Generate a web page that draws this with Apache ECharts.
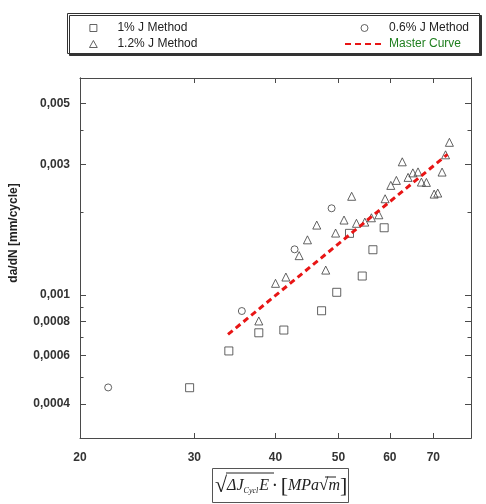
<!DOCTYPE html>
<html>
<head>
<meta charset="utf-8">
<script src="https://cdn.jsdelivr.net/npm/echarts@6/dist/echarts.min.js"></script>
<style>
  html, body { margin: 0; padding: 0; background: #fff; }
  #chart { width: 486px; height: 504px; }
</style>
</head>
<body>
<div id="chart"></div>
<script>
// tick positions
const xTicks = [20, 30, 40, 50, 60, 70];
const xInnerTicks = [30, 40, 50, 60, 70];
const yMajorTicks = [0.0004, 0.0006, 0.0008, 0.001, 0.003, 0.005];
const yMinorTicks = [0.0005, 0.0007, 0.0009, 0.002, 0.004];

// [sqrt(dJ*E), da/dN]
const method1pct = [
  [29.5, 0.000458], [33.9, 0.000624], [37.7, 0.000727], [41.2, 0.000744],
  [47.1, 0.000875], [49.7, 0.001022], [54.4, 0.001172], [56.5, 0.001462],
  [52.0, 0.001678], [58.8, 0.001759]
];
const method12pct = [
  [37.7, 0.000803], [40.0, 0.001102], [41.5, 0.001162], [43.5, 0.001391],
  [44.8, 0.001589], [46.3, 0.001799], [47.8, 0.001232], [49.5, 0.001682],
  [51.0, 0.001877], [52.4, 0.002292], [53.3, 0.001826], [54.9, 0.001845],
  [56.2, 0.001913], [57.7, 0.001962], [59.0, 0.002245], [60.2, 0.002512],
  [61.4, 0.002620], [62.7, 0.003063], [64.0, 0.002687], [65.1, 0.002791],
  [66.3, 0.002814], [67.1, 0.002583], [68.3, 0.002576], [70.2, 0.002335],
  [71.1, 0.002355], [72.2, 0.002810], [73.1, 0.003249], [74.1, 0.003609]
];
const method06pct = [[22.1, 0.000459], [35.5, 0.000873], [42.8, 0.001467], [48.8, 0.002072]];
const masterCurve = [[33.8, 0.000717], [73.6, 0.003261]];

const chart = echarts.init(document.getElementById("chart"), null, { renderer: "canvas" });

const frame = { color: "#4a4a4a", width: 1 };
const font = "Liberation Sans, Arial, sans-serif";
const pointStyle = { color: "rgba(255,255,255,0)", borderColor: "#3c3c3c", borderWidth: 1 };
const squareIcon = "path://M0,0L10,0L10,10L0,10Z";
const triangleIcon = "path://M5,0L10,9L0,9Z";
const legendIconStyle = { borderWidth: 1, borderColor: "#3c3c3c" };

const fmtY = (v) => String(+Number(v).toPrecision(4)).replace(".", ",");

function yAxisFor(position, ticks, len, labels) {
  return {
    type: "log",
    logBase: 10,
    min: 0.0003,
    max: 0.0062,
    position: position,
    axisLine: { show: true, lineStyle: frame },
    axisTick: { show: true, inside: true, length: len, lineStyle: frame, customValues: ticks },
    axisLabel: labels
      ? { show: true, customValues: ticks, formatter: fmtY, margin: 10, fontSize: 12, fontWeight: "bold", color: "#333", fontFamily: font }
      : { show: false },
    splitLine: { show: false }
  };
}

function xAxisFor(position, labels) {
  return {
    type: "log",
    logBase: 10,
    min: 20,
    max: 80,
    position: position,
    axisLine: { show: true, onZero: false, lineStyle: frame },
    axisTick: { show: true, inside: true, length: 5, lineStyle: frame, customValues: xInnerTicks },
    axisLabel: labels
      ? { show: true, customValues: xTicks, margin: 14, fontSize: 12, fontWeight: "bold", color: "#333", fontFamily: font }
      : { show: false },
    splitLine: { show: false }
  };
}

const legendText = { fontSize: 12, fontFamily: font, color: "#222" };

const option = {
  animation: false,
  backgroundColor: "#fff",
  grid: { left: 80, top: 78, right: 15, bottom: 66 },
  xAxis: [xAxisFor("bottom", true), xAxisFor("top", false)],
  yAxis: [
    yAxisFor("left", yMajorTicks, 6, true),
    yAxisFor("left", yMinorTicks, 3.5, false),
    yAxisFor("right", yMajorTicks, 6, false),
    yAxisFor("right", yMinorTicks, 3.5, false)
  ],
  legend: [
    {
      orient: "vertical", left: 84, top: 17, itemWidth: 38, itemHeight: 7, itemGap: 4,
      data: [
        { name: "1% J Method", icon: squareIcon, itemStyle: legendIconStyle },
        { name: "1.2% J Method", icon: triangleIcon, itemStyle: legendIconStyle }
      ],
      textStyle: legendText
    },
    {
      orient: "vertical", left: 339, top: 17, itemWidth: 39, itemHeight: 7, itemGap: 4,
      data: [
        { name: "0.6% J Method", itemStyle: legendIconStyle },
        {
          name: "Master Curve",
          textStyle: { color: "#1f7f1f" },
          itemStyle: { color: "rgba(0,0,0,0)", borderWidth: 0, opacity: 0 }
        }
      ],
      textStyle: legendText
    }
  ],
  graphic: [
    {
      type: "rect", left: 67, top: 13, z: -1,
      shape: { width: 412, height: 40 },
      style: { fill: "#fff", stroke: "#333", lineWidth: 1, shadowColor: "#333", shadowOffsetX: 2, shadowOffsetY: 2, shadowBlur: 0 }
    },
    {
      type: "text", x: 14, y: 233, rotation: Math.PI / 2,
      style: { text: "da/dN [mm/cycle]", font: "bold 12px " + font, fill: "#222", align: "center", verticalAlign: "middle" }
    },
    {
      type: "rect", left: 212, top: 468,
      shape: { width: 136, height: 34 },
      style: { fill: "#fff", stroke: "#555", lineWidth: 1 }
    },
    {
      type: "text", x: 215, y: 486,
      style: {
        text: "{r|√}{i|ΔJ}{s|Cycl}{i|E}{d| · }{b|[}{i|MPa}{q|√}{i|m}{b|]}",
        verticalAlign: "middle",
        rich: {
          r: { font: "22px Liberation Serif, serif", fill: "#222" },
          q: { font: "17px Liberation Serif, serif", fill: "#222" },
          i: { font: "italic 16px Liberation Serif, serif", fill: "#222" },
          s: { font: "italic 8px Liberation Serif, serif", fill: "#222", padding: [10, 1, 0, 0] },
          d: { font: "bold 14px Liberation Serif, serif", fill: "#222" },
          b: { font: "22px Liberation Serif, serif", fill: "#222" }
        }
      }
    },
    {
      type: "line", shape: { x1: 226, y1: 473, x2: 274, y2: 473 },
      style: { stroke: "#222", lineWidth: 1 }
    },
    {
      type: "line", shape: { x1: 325, y1: 477, x2: 336, y2: 477 },
      style: { stroke: "#222", lineWidth: 1 }
    }
  ],
  series: [
    {
      name: "1% J Method", type: "scatter", symbol: "rect", symbolSize: 8,
      data: method1pct, itemStyle: pointStyle
    },
    {
      name: "1.2% J Method", type: "scatter", symbol: "triangle", symbolSize: 8,
      data: method12pct, itemStyle: pointStyle
    },
    {
      name: "0.6% J Method", type: "scatter", symbol: "circle", symbolSize: 7,
      data: method06pct, itemStyle: pointStyle
    },
    {
      name: "Master Curve", type: "line", showSymbol: false, symbol: "none",
      data: masterCurve,
      lineStyle: { color: "#e81515", width: 3, type: [6, 4] },
      itemStyle: { color: "#e81515" }
    }
  ]
};

chart.setOption(option);
</script>
</body>
</html>
